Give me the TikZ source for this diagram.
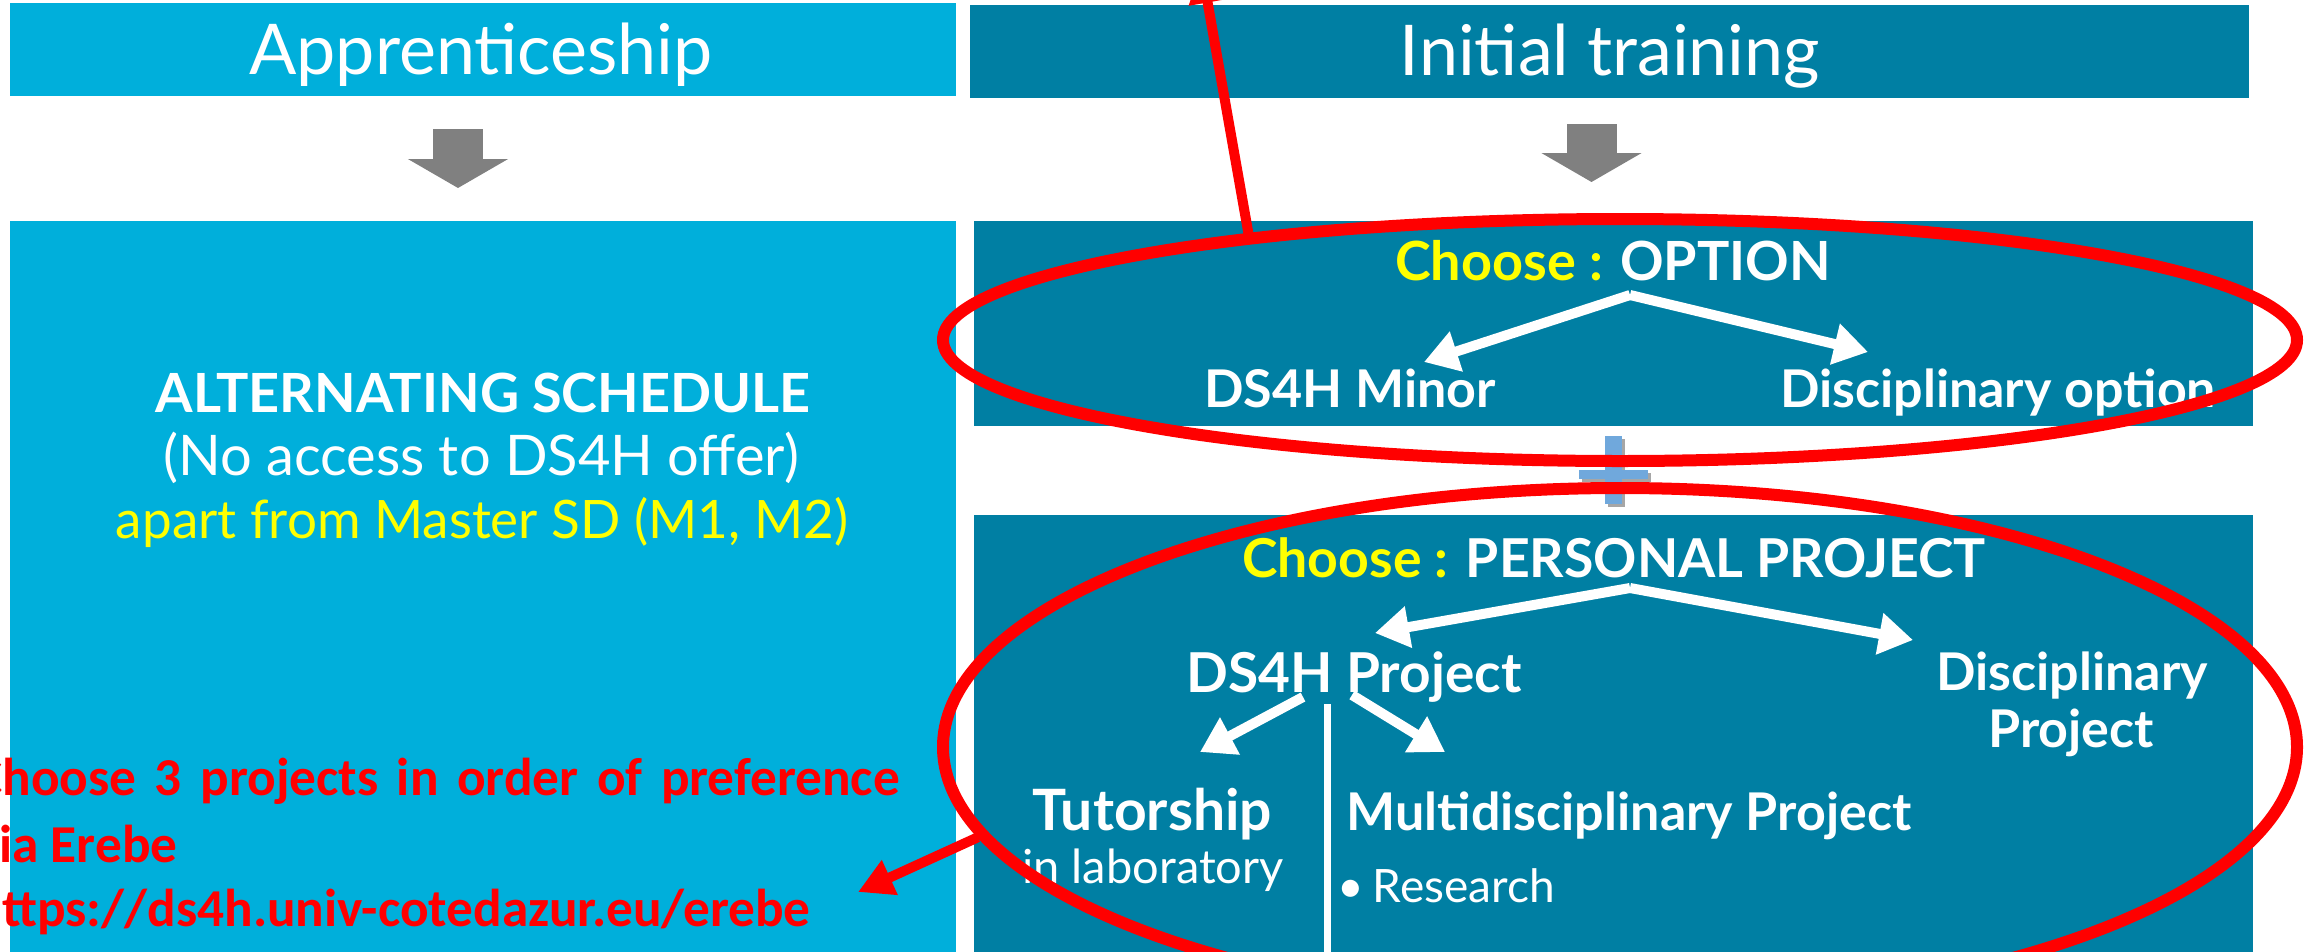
\documentclass[tikz,border=0pt]{standalone}
\usepackage{fontspec}
\setmainfont{Lato}
\newfontfamily\redfont{Carlito}
\usetikzlibrary{arrows.meta,shapes.geometric}
\definecolor{lightbl}{RGB}{0,175,219}
\definecolor{darkbl}{RGB}{0,127,163}
\definecolor{plusbl}{RGB}{112,168,220}
\definecolor{arrgray}{RGB}{128,128,128}
\definecolor{ylw}{RGB}{255,255,0}
\definecolor{redc}{RGB}{255,0,0}
\newcommand\fsz[1]{\fontsize{#1}{#1}\selectfont}
\newcommand\widesp{\spaceskip=18.5pt\relax}
\tikzset{
  box/.style={rectangle, inner sep=0pt, outer sep=0pt, anchor=north west, draw=none},
  txt/.style={text=white, inner sep=0pt, anchor=base},
  hdr/.style={txt, font=\fsz{70}},
  bld/.style={txt, font=\bfseries\fsz{52}},
  reg/.style={txt, font=\fsz{48}},
  wharrow/.style={white, line width=10pt, -{Triangle[length=34pt,width=40pt]}},
  bigarrow/.style={arrgray, line width=50pt, -{Triangle[length=29pt,width=99pt]}},
  redell/.style={draw=redc, line width=12pt, ellipse, inner sep=0pt, fill=none},
  redarrow/.style={redc, line width=10pt, -{Triangle[length=35pt,width=36pt]}},
  redtxt/.style={text=redc, inner sep=0pt, anchor=base west, font=\redfont\bfseries\fsz{53.3}},
}
\begin{document}
\begin{tikzpicture}[x=1pt,y=-1pt]
\useasboundingbox (0,0) rectangle (2305,951);
\clip (0,0) rectangle (2305,951);
% boxes
\node[box, fill=lightbl, minimum width=946pt, minimum height=93pt] (app) at (10,3) {};
\node[box, fill=darkbl, minimum width=1279pt, minimum height=93pt] (init) at (970,5) {};
\node[box, fill=lightbl, minimum width=946pt, minimum height=740pt] (alt) at (10,221) {};
\node[box, fill=darkbl, minimum width=1279pt, minimum height=205pt] (opt) at (974,221) {};
\node[box, fill=darkbl, minimum width=1279pt, minimum height=446pt] (pers) at (974,515) {};
% headers
\node[hdr] (tapp) at (481,74) {Apprenticeship};
\node[hdr] (tinit) at (1610,75) {Initial training};
% gray arrows
\draw[bigarrow] ([xshift=-25pt,yshift=-33pt]app.south) -- ([xshift=-25pt,yshift=33pt]alt.north);
\draw[bigarrow] ([xshift=-18pt,yshift=-26pt]init.south) -- ([xshift=-22pt,yshift=39pt]opt.north);
% left box text
\node[bld, font=\bfseries\fsz{54}] (alt1) at (483,412) {ALTERNATING SCHEDULE};
\node[reg, font=\fsz{56}] (alt2) at (481,475) {(No access to DS4H offer)};
\node[reg, text=ylw, font=\fsz{53}] (alt3) at (482,538) {apart from Master SD (M1, M2)};
% option box
\node[bld, font=\bfseries\fsz{54}] (chopt) at (1613,280) {\textcolor{ylw}{Choose :} OPTION};
\node[bld] (minor) at (1350,407) {DS4H Minor};
\node[bld] (discopt) at (1998,407) {Disciplinary option};
\coordinate (ap1) at (1630,295);
\coordinate (l1) at (1424,362);
\coordinate (r1) at (1868,352);
\draw[wharrow] (ap1) -- (l1);
\draw[wharrow] (ap1) -- (r1);
% plus sign
\fill[black!35] (1608,439) rectangle (1625,507);
\fill[black!35] (1582,473) rectangle (1651,482);
\fill[plusbl] (1605,436) rectangle (1622,504);
\fill[plusbl] (1579,470) rectangle (1648,479);
% personal project box
\node[bld, font=\bfseries\fsz{53.6}] (chpers) at (1614,577) {\textcolor{ylw}{Choose :} PERSONAL PROJECT};
\node[bld, font=\bfseries\fsz{55}] (dsproj) at (1354,692) {DS4H Project};
\node[bld] (discp1) at (2072,690) {Disciplinary};
\node[bld] (discp2) at (2071,747) {Project};
\node[bld, font=\bfseries\fsz{57}] (tut) at (1152,830) {Tutorship};
\node[reg, font=\fsz{47}] (tutlab) at (1153,883) {in laboratory};
\node[bld] (multi) at (1629,830) {Multidisciplinary Project};
\node[reg, anchor=base west, font=\fsz{46}] (res) at (1337,902) {•\hspace{9pt}Research};
\coordinate (ap2) at (1630,588);
\coordinate (l2) at (1375,633);
\coordinate (r2) at (1913,640);
\draw[wharrow] (ap2) -- (l2);
\draw[wharrow] (ap2) -- (r2);
\coordinate (s1) at (1303,697);
\coordinate (sl) at (1200,752);
\coordinate (s2) at (1352,695);
\coordinate (sr) at (1445,752);
\draw[wharrow] (s1) -- (sl);
\draw[wharrow] (s2) -- (sr);
\coordinate (vtop) at (1327,704);
\coordinate (vbot) at (1327,960);
\draw[white, line width=7pt] (vtop) -- (vbot);
% red annotations
\node[redell, minimum width=1354pt, minimum height=242pt] (ell1) at (1620,340) {};
\node[redell, minimum width=1354pt, minimum height=518pt] (ell2) at (1620,747) {};
\coordinate (topend) at (1201.5,-32);
\draw[redarrow] (ell1.164) -- (topend);
\coordinate (txtend) at (858,892);
\draw[redarrow] (ell2.188) -- (txtend);
\node[redtxt] (rt1) at (-26,795) {\widesp Choose 3 projects in order of preference};
\node[redtxt] (rt2) at (-26,862) {via Erebe};
\node[redtxt] (rt3) at (-26,926) {https://ds4h.univ-cotedazur.eu/erebe};
\end{tikzpicture}
\end{document}
